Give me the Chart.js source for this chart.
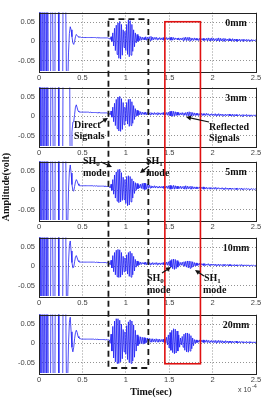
<!DOCTYPE html>
<html>
<head>
<meta charset="utf-8">
<script src="https://cdn.jsdelivr.net/npm/chart.js@4.4.1/dist/chart.umd.min.js"></script>
<style>
  body { margin: 0; background: #fff; }
  #wrap { position: relative; width: 265px; height: 399px; overflow: hidden; }
  #wrap canvas { position: absolute; left: 0; }
  #overlay { top: 0; pointer-events: none; }
</style>
</head>
<body>
<div id="wrap"></div>
<script>
// sample step is 0.01 (x 1e-4 s); values are in mV
const xTicks = [0, 0.5, 1, 1.5, 2, 2.5];
const xTickLabels = ["0", "0.5", "1", "1.5", "2", "2.5"];
const yTicks = [-0.05, 0, 0.05];
const yTickLabels = ["-0.05", "0", "0.05"];
const caseLabels = ["0mm", "3mm", "5mm", "10mm", "20mm"];

// saturated excitation, t = 0.00 .. 0.31 (same in every record)
const ringdown = [
  300, -300, 300, -300, 300, -300, 300, -300, 300, -300,
  300, -300, -300, -300, 300, 300, 300, -300, -300, 300,
  300, 300, 300, -300, -300, -300, -300, -300, 300, 300,
  300, 300
];

// t = 0.32 .. 2.50
const trace0mm = [
  -200, -120, -30, 20, 38, 30, 12, -4, -8, 0,
  12, 18, 15, 12, 11, 11, 11, 10, 10,
  10, 10, 10, 10, 10, 10, 10, 10, 10, 10,
  10, 10, 10, 10, 10, 9, 10, 9, 10, 9,
  9, 9, 9, 9, 9, 9, 9, 9, 9, 8,
  8, 5, 12, 0, 22, -12, 34, -24, 42, -34,
  48, -44, 52, -46, 44, -36, 30, -16, 26, -24,
  44, -34, 56, -40, 54, -36, 44, -26, 30, -14,
  22, -4, 18, 0, 14, 2, 12, 3, 11, 4,
  10, 4, 12, 3, 11, 5, 12, 2, 13, 3,
  11, 4, 10, 5, 11, 4, 9, 5, 10, 4,
  9, 4, 10, 3, 9, 5, 10, 4, 9, 5,
  10, 3, 11, 3, 10, 4, 9, 5, 8, 4,
  9, 3, 8, 4, 9, 2, 10, 3, 11, 2,
  10, 2, 11, 1, 9, 3, 8, 2, 9, 3,
  8, 3, 7, 2, 8, 3, 7, 3, 8, 2,
  7, 3, 8, 1, 9, 2, 8, 1, 9, 2,
  8, 1, 7, 2, 8, 1, 9, 0, 8, 1,
  7, 1, 8, 0, 7, 2, 6, 1, 7, 1,
  6, 1, 7, 0, 6, 1, 6, 0, 5, 1,
  6, 0, 5, 1, 6, 0, 5, 1, 5, 0,
  5, 1, 4, 0, 5, 1, 4, 1, 4, 2
];
const trace3mm = [
  300, 300, 300, 300, -200, -100, -40, -15, -14, 5,
  24, 30, 22, 14, 12, 11, 11, 11, 11,
  11, 11, 11, 11, 11, 11, 11, 10, 11, 10,
  10, 10, 10, 10, 10, 10, 9, 10, 9, 10,
  9, 9, 9, 9, 9, 9, 9, 9, 8, 8,
  8, 4, 14, -2, 24, -14, 34, -24, 44, -32,
  50, -38, 52, -39, 46, -34, 36, -22, 24, -12,
  36, -20, 44, -26, 45, -24, 38, -18, 28, -8,
  20, 0, 16, 2, 14, 4, 12, 4, 11, 5,
  10, 5, 11, 4, 10, 5, 9, 4, 10, 5,
  9, 4, 10, 5, 9, 4, 10, 5, 9, 4,
  9, 5, 10, 4, 9, 4, 10, 3, 11, 2,
  13, 1, 14, 0, 13, 1, 12, 2, 11, 3,
  10, 3, 9, 4, 10, 3, 9, 3, 10, 2,
  11, 1, 12, 0, 11, 1, 10, 2, 9, 2,
  8, 3, 8, 2, 7, 3, 8, 2, 7, 3,
  7, 2, 8, 3, 7, 2, 6, 3, 7, 2,
  6, 2, 7, 1, 6, 2, 7, 1, 6, 2,
  6, 1, 5, 2, 6, 1, 5, 2, 6, 1,
  5, 1, 6, 0, 5, 1, 5, 1, 4, 2,
  5, 1, 4, 0, 5, 1, 4, 1, 5, 0,
  4, 1, 4, 0, 4, 1, 3, 1, 4, 1
];
const trace5mm = [
  -200, -100, 0, 50, 66, 45, 15, 0, -2, 10,
  22, 28, 24, 17, 13, 12, 12, 12, 12,
  12, 12, 12, 12, 12, 12, 12, 12, 12, 12,
  12, 12, 11, 12, 11, 12, 11, 11, 11, 11,
  11, 11, 11, 11, 11, 10, 11, 10, 10, 10,
  10, 6, 16, 0, 28, -10, 40, -20, 48, -28,
  54, -32, 55, -30, 46, -26, 34, -24, 28, -34,
  36, -40, 38, -38, 36, -30, 30, -20, 24, -8,
  20, 0, 18, 4, 15, 6, 16, 5, 18, 3,
  19, 2, 18, 3, 16, 5, 14, 6, 12, 6,
  11, 7, 12, 6, 11, 7, 10, 6, 11, 6,
  10, 6, 11, 5, 10, 6, 11, 5, 12, 4,
  13, 3, 12, 4, 13, 3, 12, 4, 11, 4,
  10, 5, 11, 4, 10, 5, 11, 3, 12, 3,
  11, 4, 10, 4, 11, 3, 10, 4, 9, 4,
  9, 4, 8, 5, 9, 4, 8, 4, 9, 3,
  8, 4, 8, 3, 7, 4, 8, 3, 7, 4,
  7, 3, 8, 3, 7, 4, 7, 3, 6, 3,
  7, 3, 6, 2, 7, 3, 6, 2, 6, 3,
  6, 2, 6, 3, 5, 2, 6, 2, 5, 3,
  5, 2, 6, 2, 5, 2, 5, 3, 5, 2,
  5, 2, 4, 2, 5, 2, 4, 2, 4, 3
];
const trace10mm = [
  -200, -90, 10, 55, 66, 40, 10, -4, -2, 12,
  24, 28, 22, 15, 12, 11, 11, 11, 11,
  11, 11, 11, 11, 11, 11, 11, 11, 11, 11,
  11, 11, 11, 11, 10, 11, 10, 11, 10, 10,
  10, 10, 10, 10, 10, 10, 10, 9, 10, 9,
  9, 4, 16, -4, 28, -14, 36, -22, 42, -27,
  44, -29, 43, -28, 36, -22, 26, -14, 22, -12,
  30, -20, 36, -26, 39, -28, 34, -22, 26, -12,
  18, -2, 14, 2, 12, 4, 11, 5, 10, 6,
  10, 5, 11, 4, 10, 5, 10, 4, 9, 5,
  10, 4, 9, 5, 10, 4, 9, 5, 9, 4,
  9, 5, 10, 4, 9, 4, 11, 3, 12, 2,
  15, -2, 18, -6, 19, -8, 18, -6, 15, -2,
  12, 2, 10, 3, 11, 2, 12, 0, 13, -2,
  14, -4, 14, -5, 13, -3, 12, -1, 10, 1,
  9, 2, 8, 3, 8, 2, 7, 3, 7, 2,
  7, 2, 6, 3, 7, 2, 6, 2, 6, 3,
  6, 2, 6, 1, 5, 2, 6, 1, 5, 2,
  5, 1, 6, 1, 5, 2, 5, 1, 5, 1,
  5, 1, 4, 1, 5, 1, 4, 1, 4, 2,
  4, 1, 5, 1, 4, 1, 4, 1, 4, 1,
  4, 1, 3, 1, 4, 1, 3, 1, 3, 1
];
const trace20mm = [
  -200, -100, 0, 55, 68, 30, -10, -22, -10, 12,
  28, 34, 28, 18, 14, 12, 12, 11, 11,
  11, 11, 11, 11, 11, 11, 11, 11, 11, 11,
  11, 11, 11, 10, 11, 10, 11, 10, 10, 10,
  10, 10, 10, 10, 10, 10, 9, 10, 9, 9,
  9, 0, 24, -20, 44, -38, 58, -48, 64, -52,
  64, -52, 60, -48, 50, -40, 36, -22, 30, -28,
  46, -42, 56, -50, 61, -52, 58, -46, 48, -36,
  34, -20, 22, -6, 18, -2, 17, 0, 16, -2,
  15, 0, 14, 2, 14, 3, 13, 4, 12, 3,
  12, 4, 11, 3, 12, 4, 11, 3, 11, 4,
  10, 4, 11, 3, 12, 1, 16, -4, 22, -12,
  28, -18, 34, -24, 38, -27, 37, -25, 32, -20,
  22, -10, 14, -4, 18, -10, 24, -18, 27, -22,
  27, -23, 25, -20, 20, -14, 14, -6, 10, 0,
  9, 2, 8, 3, 9, 2, 8, 3, 9, 2,
  8, 3, 9, 2, 8, 2, 7, 3, 8, 2,
  7, 2, 8, 1, 7, 2, 8, 2, 7, 1,
  7, 2, 6, 1, 7, 2, 6, 1, 6, 2,
  6, 1, 6, 1, 5, 2, 6, 1, 5, 1,
  5, 1, 5, 2, 5, 1, 4, 1, 5, 1,
  4, 1, 5, 1, 4, 1, 4, 1, 4, 1
];
const traces = [trace0mm, trace3mm, trace5mm, trace10mm, trace20mm];

// highlight boxes in data units (top from first panel, bottom from last panel)
const directBox = { x0: 0.8, x1: 1.26, top: 0.058, bottom: -0.064 };
const reflectedBox = { x0: 1.45, x1: 1.86, top: 0.051, bottom: -0.053 };

const panelTops = [6, 81, 155, 231, 308];
const PLOT_H = 65;
const PAD_TOP = 2;
const AXIS_H = 12;
const LINE_BLUE = "rgb(30,30,245)";
const tickFont = { family: "'Liberation Sans', Arial, sans-serif", size: 7.5 };

const wrap = document.getElementById("wrap");

// MATLAB-style box around the plot area
const framePlugin = {
  id: "frame",
  afterDatasetsDraw(chart) {
    const { ctx, chartArea: a } = chart;
    ctx.save();
    ctx.strokeStyle = "#222";
    ctx.lineWidth = 1;
    ctx.strokeRect(Math.round(a.left) + 0.5, Math.round(a.top) + 0.5,
      Math.round(a.right - a.left), Math.round(a.bottom - a.top));
    ctx.restore();
  }
};

function makePanel(values, i) {
  const canvas = document.createElement("canvas");
  canvas.width = 265;
  canvas.height = PAD_TOP + PLOT_H + AXIS_H;
  canvas.style.top = (panelTops[i] - PAD_TOP) + "px";
  wrap.appendChild(canvas);

  const all = ringdown.concat(values);
  const points = all.map((v, k) => ({ x: k / 100, y: v / 1000 }));

  return new Chart(canvas, {
    type: "line",
    data: {
      datasets: [{
        data: points,
        borderColor: LINE_BLUE,
        borderWidth: 0.8,
        pointRadius: 0,
        tension: 0,
        fill: false,
      }],
    },
    options: {
      responsive: false,
      animation: false,
      devicePixelRatio: 1,
      events: [],
      layout: { padding: { left: 0, right: 9, top: PAD_TOP, bottom: 0 } },
      plugins: { legend: { display: false }, tooltip: { enabled: false } },
      scales: {
        x: {
          type: "linear",
          min: 0,
          max: 2.5,
          afterBuildTicks: (s) => { s.ticks = xTicks.map((v) => ({ value: v })); },
          afterFit: (s) => { s.height = AXIS_H; },
          ticks: {
            font: tickFont, color: "#444", padding: 2, maxRotation: 0, autoSkip: false,
            callback: (v) => xTickLabels[xTicks.indexOf(v)],
          },
          grid: { color: "#777", lineWidth: 0.8, tickLength: 0 },
          border: { display: false, dash: [1, 2] },
        },
        y: {
          min: -0.077,
          max: 0.075,
          afterBuildTicks: (s) => { s.ticks = yTicks.map((v) => ({ value: v })); },
          afterFit: (s) => { s.width = 39; },
          ticks: {
            font: tickFont, color: "#444", padding: 4,
            callback: (v) => yTickLabels[yTicks.indexOf(v)],
          },
          grid: { color: "#777", lineWidth: 0.8, tickLength: 0 },
          border: { display: false, dash: [1, 2] },
        },
      },
    },
    plugins: [framePlugin],
  });
}

const charts = traces.map(makePanel);

// overlay for boxes, labels and arrows
const ov = document.createElement("canvas");
ov.id = "overlay";
ov.width = 265;
ov.height = 399;
wrap.appendChild(ov);
const ctx = ov.getContext("2d");

function pageX(chart, v) { return chart.scales.x.getPixelForValue(v); }
function pageY(idx, v) { return charts[idx].scales.y.getPixelForValue(v) + panelTops[idx] - PAD_TOP; }

function drawBox(b, color, width, dash) {
  const x0 = pageX(charts[0], b.x0), x1 = pageX(charts[0], b.x1);
  const y0 = pageY(0, b.top), y1 = pageY(4, b.bottom);
  ctx.save();
  ctx.strokeStyle = color;
  ctx.lineWidth = width;
  ctx.setLineDash(dash);
  ctx.strokeRect(x0, y0, x1 - x0, y1 - y0);
  ctx.restore();
}

drawBox(reflectedBox, "#e01010", 1.6, []);
drawBox(directBox, "#1a1a1a", 1.8, [6, 4]);

const SERIF = "'Liberation Serif', 'Times New Roman', serif";
function label(text, x, y, align) {
  ctx.font = "bold 10px " + SERIF;
  ctx.fillStyle = "#111";
  ctx.textAlign = align || "left";
  ctx.textBaseline = "middle";
  ctx.fillText(text, x, y);
}
function shLabel(sub, x, y) {
  ctx.font = "bold 10px " + SERIF;
  ctx.fillStyle = "#111";
  ctx.textAlign = "left";
  ctx.textBaseline = "middle";
  ctx.fillText("SH", x, y);
  const w = ctx.measureText("SH").width;
  ctx.font = "bold 7px " + SERIF;
  ctx.fillText(sub, x + w, y + 3);
}
function arrow(x0, y0, x1, y1) {
  const ang = Math.atan2(y1 - y0, x1 - x0);
  ctx.save();
  ctx.strokeStyle = "#111";
  ctx.fillStyle = "#111";
  ctx.lineWidth = 1.2;
  ctx.beginPath();
  ctx.moveTo(x0, y0);
  ctx.lineTo(x1 - 3 * Math.cos(ang), y1 - 3 * Math.sin(ang));
  ctx.stroke();
  ctx.beginPath();
  ctx.moveTo(x1, y1);
  ctx.lineTo(x1 - 5 * Math.cos(ang) + 2.5 * Math.sin(ang), y1 - 5 * Math.sin(ang) - 2.5 * Math.cos(ang));
  ctx.lineTo(x1 - 5 * Math.cos(ang) - 2.5 * Math.sin(ang), y1 - 5 * Math.sin(ang) + 2.5 * Math.cos(ang));
  ctx.closePath();
  ctx.fill();
  ctx.restore();
}

// thickness labels, top right of each panel
caseLabels.forEach((t, i) => label(t, 236, panelTops[i] + 17, "center"));

// panel 2
label("Direct", 74, 125);
label("Signals", 74, 136.5);
arrow(100, 123, 108, 118);
label("Reflected", 209, 127);
label("Signals", 209, 138);
arrow(209, 122, 186, 117);

// panel 3
shLabel("0", 83, 161.5);
label("mode", 83, 173);
arrow(101, 162, 112, 167);
shLabel("1", 146, 161.5);
label("mode", 146, 173);
arrow(149, 166, 140, 173);

// panel 4
shLabel("0", 147, 278);
label("mode", 147, 290);
arrow(162, 273, 171, 267);
shLabel("1", 204, 278);
label("mode", 203, 290);
arrow(204, 276, 195, 270);

// axis titles
label("Time(sec)", 151, 392.5, "center");
ctx.save();
ctx.translate(6, 187);
ctx.rotate(-Math.PI / 2);
label("Amplitude(volt)", 0, 0, "center");
ctx.restore();

ctx.font = "7px 'Liberation Sans', Arial, sans-serif";
ctx.fillStyle = "#444";
ctx.textAlign = "left";
ctx.textBaseline = "middle";
ctx.fillText("x 10", 238, 390);
ctx.font = "5.5px 'Liberation Sans', Arial, sans-serif";
ctx.fillText("-4", 252, 386);
</script>
</body>
</html>
